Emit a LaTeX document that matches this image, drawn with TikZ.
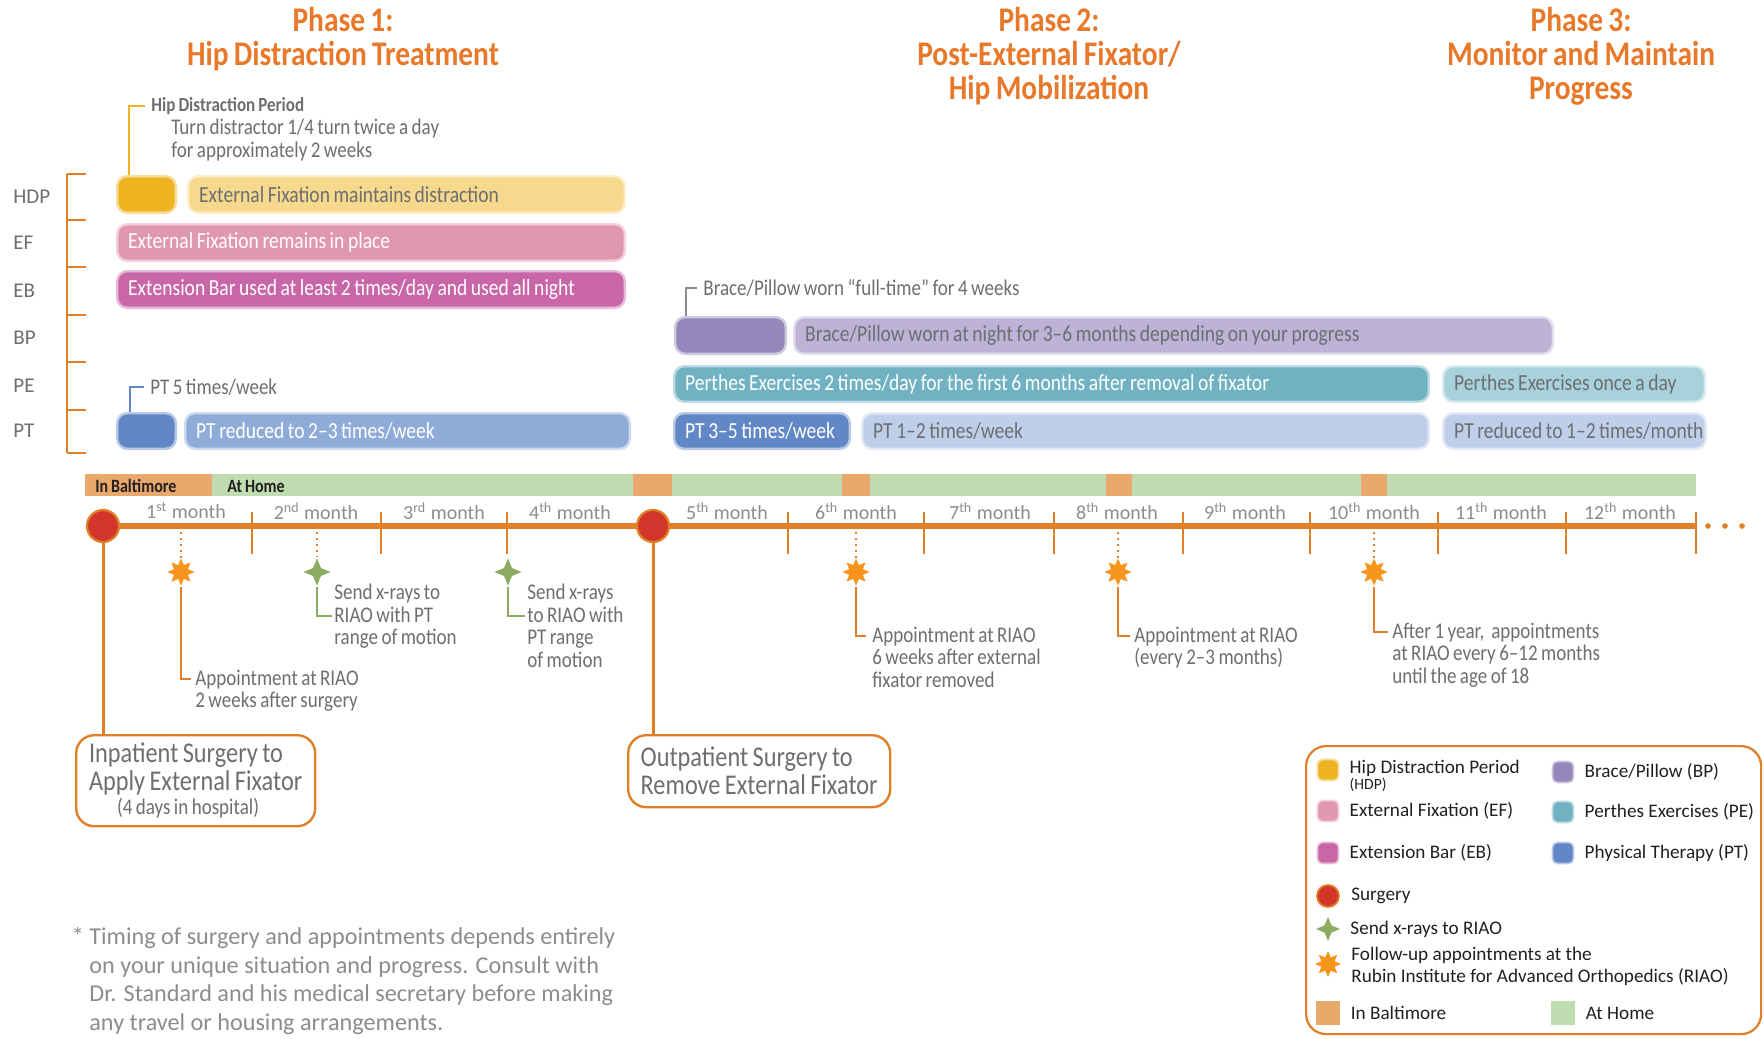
\documentclass[tikz,border=0pt]{standalone}
\usepackage{fontspec}
\setmainfont{Carlito}
\newfontfamily\condfont{Carlito}[FakeStretch=0.85, WordSpace=0.8, Ligatures=TeX]
\usetikzlibrary{shapes.geometric,positioning}

\definecolor{phaseorange}{HTML}{E8792A}
\definecolor{lineorange}{HTML}{E07F27}
\definecolor{textgray}{HTML}{6D6E71}
\definecolor{monthgray}{HTML}{8A8C8F}
\definecolor{darktext}{HTML}{231F20}
\definecolor{hdpgold}{HTML}{EEB422}
\definecolor{hdplight}{HTML}{F6D98C}
\definecolor{efpink}{HTML}{E097B2}
\definecolor{ebmagenta}{HTML}{C866A8}
\definecolor{bpdark}{HTML}{9487BA}
\definecolor{bplight}{HTML}{BDB3D6}
\definecolor{peteal}{HTML}{70B2C2}
\definecolor{pelight}{HTML}{A8D2DB}
\definecolor{ptdark}{HTML}{6187C6}
\definecolor{ptmid}{HTML}{8FACD9}
\definecolor{ptlight}{HTML}{C0CFE9}
\definecolor{baltorange}{HTML}{E9A96C}
\definecolor{homegreen}{HTML}{C0DDB1}
\definecolor{surgred}{HTML}{D2362A}
\definecolor{xraygreen}{HTML}{8BAD61}
\definecolor{starorange}{HTML}{F7941E}

% name, x1, y1, x2, y2, style, text
\newcommand\planbar[7]{%
    \pgfmathsetmacro\barw{(#4-#2)*0.5-12.2}%
    \pgfmathsetmacro\barh{(#5-#3)*0.5-1.2}%
    \node[planbar, #6, minimum height=\barh pt]
        (#1) at (#2,#3) {\makebox[\barw pt][l]{#7}};%
}

\begin{document}
\begin{tikzpicture}
    [   x=0.5pt, y=-0.5pt
    ,   barcol/.style=
        {   fill=#1
        ,   draw=#1!45!white
        }
    ,   planbar/.style=
        {   rectangle
        ,   rounded corners=5pt
        ,   anchor=north west
        ,   inner xsep=5.5pt
        ,   inner ysep=0pt
        ,   line width=1.2pt
        ,   text=white
        ,   font=\condfont\fontsize{11.5}{13}\selectfont
        }
    ,   phasetitle/.style=
        {   align=center
        ,   text=phaseorange
        ,   font=\condfont\bfseries\fontsize{17.3}{17}\selectfont
        }
    ,   rowlabel/.style=
        {   anchor=west
        ,   inner sep=0pt
        ,   text=textgray
        ,   font=\fontsize{10.5}{12}\selectfont
        }
    ,   note/.style=
        {   align=left
        ,   inner sep=0pt
        ,   text=textgray
        ,   font=\condfont\fontsize{11.2}{11.25}\selectfont
        }
    ,   monthlabel/.style=
        {   text=monthgray
        ,   inner sep=0pt
        ,   font=\fontsize{10}{12}\selectfont
        }
    ,   placelabel/.style=
        {   anchor=west
        ,   inner sep=0pt
        ,   text=darktext
        ,   font=\condfont\bfseries\fontsize{9.4}{11}\selectfont
        }
    ,   surgery/.style=
        {   circle
        ,   fill=surgred
        ,   draw=lineorange
        ,   line width=1.1pt
        ,   minimum size=16pt
        ,   inner sep=0pt
        }
    ,   apptstar/.style=
        {   star
        ,   star points=8
        ,   star point ratio=1.8
        ,   fill=starorange
        ,   minimum size=13.5pt
        ,   inner sep=0pt
        }
    ,   xraystar/.style=
        {   star
        ,   star points=4
        ,   star point ratio=2.4
        ,   fill=xraygreen
        ,   minimum size=13.5pt
        ,   inner sep=0pt
        }
    ,   tline/.style={lineorange, line width=2.6pt}
    ,   tick/.style={lineorange, line width=1.1pt}
    ,   dotline/.style={lineorange, line width=1pt, dotted}
    ,   apptline/.style={lineorange, line width=0.8pt}
    ,   xrayline/.style={xraygreen, line width=0.8pt}
    ,   surgline/.style={lineorange, line width=1.5pt}
    ,   surgbox/.style=
        {   draw=lineorange
        ,   line width=1.2pt
        ,   rounded corners=9pt
        ,   anchor=north west
        ,   align=left
        ,   inner ysep=1.5pt
        ,   text=textgray
        ,   font=\condfont\fontsize{14.3}{14}\selectfont
        }
    ,   swatch/.style=
        {   rectangle
        ,   rounded corners=2.5pt
        ,   minimum size=10.5pt
        ,   inner sep=0pt
        ,   line width=0.8pt
        }
    ,   lgtext/.style=
        {   inner sep=0pt
        ,   align=left
        ,   text=darktext
        ,   font=\fontsize{9.6}{11}\selectfont
        }
    ]
    \useasboundingbox (0,0) rectangle (1764,1038);

    % phase titles
    \node[phasetitle] (phase1) at (343,39) {Phase 1:\\Hip Distraction Treatment};
    \node[phasetitle] (phase2) at (1049,56) {Phase 2:\\Post-External Fixator/\\Hip Mobilization};
    \node[phasetitle] (phase3) at (1581,56) {Phase 3:\\Monitor and Maintain\\Progress};

    % row labels and bracket
    \foreach\y/\t in {197/HDP,243/EF,291/EB,338/BP,386/PE,431/PT}
    {   \node[rowlabel] (row\t) at (13,\y) {\t};
    }
    \draw[tick] (67,174) -- (67,453);
    \foreach\y in {174,220,267,315,362,410,453}
    {   \draw[tick] (67,\y) -- (86,\y);
    }

    % bars
    \planbar{hdpA}{116}{175}{177}{214}{barcol=hdpgold}{}
    \planbar{hdpB}{187}{175}{626}{214}{barcol=hdplight, text=textgray}{External Fixation maintains distraction}
    \planbar{efA}{116}{223}{626}{262}{barcol=efpink}{External Fixation remains in place}
    \planbar{ebA}{116}{270}{626}{309}{barcol=ebmagenta}{Extension Bar used at least 2 times/day and used all night}
    \planbar{bpA}{674}{316}{787}{355}{barcol=bpdark}{}
    \planbar{bpB}{793}{316}{1554}{355}{barcol=bplight, text=textgray}{Brace/Pillow worn at night for 3–6 months depending on your progress}
    \planbar{peA}{673}{365}{1430}{403}{barcol=peteal}{Perthes Exercises 2 times/day for the first 6 months after removal of fixator}
    \planbar{peB}{1442}{365}{1706}{403}{barcol=pelight, text=textgray}{Perthes Exercises once a day}
    \planbar{ptA}{116}{412}{177}{450}{barcol=ptdark}{}
    \planbar{ptB}{184}{412}{631}{450}{barcol=ptmid}{PT reduced to 2–3 times/week}
    \planbar{ptC}{673}{412}{851}{450}{barcol=ptdark}{PT 3–5 times/week}
    \planbar{ptD}{861}{412}{1430}{450}{barcol=ptlight, text=textgray}{PT 1–2 times/week}
    \planbar{ptE}{1442}{412}{1707}{450}{barcol=ptlight, text=textgray}{PT reduced to 1–2 times/month}

    % notes above the bars
    \node[note, anchor=west, inner sep=3pt, font=\condfont\bfseries\fontsize{10}{11}\selectfont]
        (hdpNote) at (145,106) {Hip Distraction Period};
    \node[note, anchor=north west] (hdpSub) at (171,119)
        {Turn distractor 1/4 turn twice a day\\for approximately 2 weeks};
    \draw[hdpgold, line width=0.9pt] (hdpNote.west) -| ([xshift=6.5pt]hdpA.north west);
    \node[note, anchor=west, inner sep=3pt] (bpNote) at (697,288)
        {Brace/Pillow worn “full-time” for 4 weeks};
    \draw[textgray!80, line width=0.9pt] (bpNote.west) -| ([xshift=6pt]bpA.north west);
    \node[note, anchor=west, inner sep=3pt] (ptNote) at (144,387) {PT 5 times/week};
    \draw[ptdark, line width=0.9pt] (ptNote.west) -| ([xshift=7pt]ptA.north west);

    % where you are
    \foreach\xa/\xb/\c in {85/212/baltorange,212/633/homegreen,633/672/baltorange,
        672/842/homegreen,842/870/baltorange,870/1106/homegreen,1106/1132/baltorange,
        1132/1361/homegreen,1361/1387/baltorange,1387/1696/homegreen}
    {   \fill[\c] (\xa,474) rectangle (\xb,496);
    }
    \node[placelabel] (inBalt) at (95,486) {In Baltimore};
    \node[placelabel] (atHome) at (227,486) {At Home};

    % timeline
    \coordinate (tStart) at (103,526);
    \coordinate (tEnd) at (1696,526);
    \draw[tline] (tStart) -- (tEnd);
    \foreach\x in {252,381,507,788,924,1054,1183,1310,1438,1566,1696}
    {   \draw[tick] (\x,512) -- (\x,554);
    }
    \foreach\x in {1708,1725,1742}
    {   \fill[lineorange] (\x,526) circle (1.4pt);
    }
    \foreach\x/\n/\s in {186/1/st,316/2/nd,444/3/rd,570/4/th,727/5/th,856/6/th,
        990/7/th,1117/8/th,1245/9/th,1374/10/th,1501/11/th,1630/12/th}
    {   \node[monthlabel] (month\n) at (\x,511) {\n\textsuperscript{\s} month};
    }
    \node[surgery] (surg1) at (tStart) {};
    \node[surgery] (surg2) at (653,526) {};

    % appointments and x-rays
    \node[apptstar] (st1) at (181,572) {};
    \node[xraystar] (xr1) at (317,572) {};
    \node[xraystar] (xr2) at (508,572) {};
    \node[apptstar] (st6) at (856,572) {};
    \node[apptstar] (st8) at (1118,572) {};
    \node[apptstar] (st10) at (1374,572) {};
    \foreach\m in {st1,xr1,st6,st8,st10}
    {   \draw[dotline] (\m |- tStart) -- (\m.north);
    }

    \coordinate (st1elbow) at (191,679);
    \node[note, anchor=north west, xshift=2pt, yshift=4.8pt] (st1note) at (st1elbow)
        {Appointment at RIAO\\2 weeks after surgery};
    \draw[apptline] (st1.south) |- (st1elbow);

    \coordinate (xr1elbow) at (332,616);
    \node[note, anchor=north west, xshift=1pt, yshift=16pt] (xr1note) at (xr1elbow)
        {Send x-rays to\\RIAO with PT\\range of motion};
    \draw[xrayline] (xr1.south) |- (xr1elbow);

    \coordinate (xr2elbow) at (525,616);
    \node[note, anchor=north west, xshift=1pt, yshift=16pt] (xr2note) at (xr2elbow)
        {Send x-rays\\to RIAO with\\PT range\\of motion};
    \draw[xrayline] (xr2.south) |- (xr2elbow);

    \coordinate (st6elbow) at (866,636);
    \node[note, anchor=north west, xshift=3pt, yshift=4.8pt] (st6note) at (st6elbow)
        {Appointment at RIAO\\6 weeks after external\\fixator removed};
    \draw[apptline] (st6.south) |- (st6elbow);

    \coordinate (st8elbow) at (1130,636);
    \node[note, anchor=north west, xshift=2pt, yshift=4.8pt] (st8note) at (st8elbow)
        {Appointment at RIAO\\(every 2–3 months)};
    \draw[apptline] (st8.south) |- (st8elbow);

    \coordinate (st10elbow) at (1388,632);
    \node[note, anchor=north west, xshift=2pt, yshift=4.8pt] (st10note) at (st10elbow)
        {After 1 year,\ \ appointments\\at RIAO every 6–12 months\\until the age of 18};
    \draw[apptline] (st10.south) |- (st10elbow);

    % surgeries
    \node[surgbox, minimum width=119.5pt, minimum height=45.5pt] (box1) at (75,734)
        {Inpatient Surgery to\\Apply External Fixator\\[-2.2pt]
         \hspace*{14pt}{\fontsize{11.2}{11}\selectfont(4 days in hospital)}};
    \node[surgbox, minimum width=131pt, minimum height=36pt] (box2) at (627,734)
        {Outpatient Surgery to\\Remove External Fixator};
    \draw[surgline] (surg1) -- (surg1 |- box1.north);
    \draw[surgline] (surg2) -- (surg2 |- box2.north);

    % footnote
    \node[note, anchor=north west, text=monthgray, font=\fontsize{12.1}{14.3}\selectfont]
        (foot) at (89,927)
        {\llap{* }Timing of surgery and appointments depends entirely\\
         on your unique situation and progress. Consult with\\
         Dr. Standard and his medical secretary before making\\
         any travel or housing arrangements.};

    % legend
    \node[draw=lineorange, line width=1.1pt, rounded corners=10pt, anchor=north west,
        minimum width=227.5pt, minimum height=144pt, inner sep=0pt] (legend) at (1305,745) {};
    \node[swatch, barcol=hdpgold] (lgHDP) at (1328,770) {};
    \node[swatch, barcol=efpink] (lgEF) at (1328,811) {};
    \node[swatch, barcol=ebmagenta] (lgEB) at (1328,853) {};
    \node[swatch, barcol=bpdark] (lgBP) at (1563,772) {};
    \node[swatch, barcol=peteal] (lgPE) at (1563,812) {};
    \node[swatch, barcol=ptdark] (lgPT) at (1563,853) {};
    \node[surgery, minimum size=11pt, line width=0.9pt] (lgSurg) at (1328,896) {};
    \node[xraystar, minimum size=12pt] (lgXray) at (1328,929) {};
    \node[apptstar, minimum size=13pt] (lgAppt) at (1328,964) {};
    \node[rectangle, fill=baltorange, minimum size=12pt, inner sep=0pt] (lgBalt) at (1328,1013) {};
    \node[rectangle, fill=homegreen, minimum size=12pt, inner sep=0pt] (lgHome) at (1563,1013) {};

    \node[lgtext, right=5pt of lgHDP, yshift=1pt] (lgHDPtext) {Hip Distraction Period};
    \node[lgtext, anchor=north west, font=\fontsize{7.8}{9}\selectfont]
        (lgHDPabbr) at ([yshift=-0.5pt]lgHDPtext.south west) {(HDP)};
    \node[lgtext, right=5pt of lgEF] (lgEFtext) {External Fixation (EF)};
    \node[lgtext, right=5pt of lgEB] (lgEBtext) {Extension Bar (EB)};
    \node[lgtext, right=5pt of lgBP] (lgBPtext) {Brace/Pillow (BP)};
    \node[lgtext, right=5pt of lgPE] (lgPEtext) {Perthes Exercises (PE)};
    \node[lgtext, right=5pt of lgPT] (lgPTtext) {Physical Therapy (PT)};
    \node[lgtext, right=5.5pt of lgSurg] (lgSurgtext) {Surgery};
    \node[lgtext, right=4.5pt of lgXray] (lgXraytext) {Send x-rays to RIAO};
    \node[lgtext, anchor=north west, font=\fontsize{9.6}{11}\selectfont]
        (lgAppttext) at ([xshift=4.5pt, yshift=8.5pt]lgAppt.east)
        {Follow-up appointments at the\\Rubin Institute for Advanced Orthopedics (RIAO)};
    \node[lgtext, right=5pt of lgBalt] (lgBalttext) {In Baltimore};
    \node[lgtext, right=5pt of lgHome] (lgHometext) {At Home};
\end{tikzpicture}
\end{document}
